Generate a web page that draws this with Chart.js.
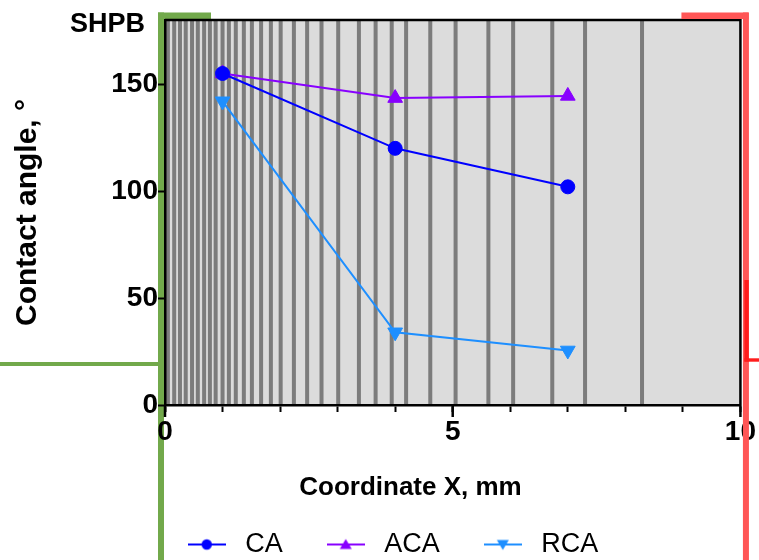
<!DOCTYPE html>
<html><head><meta charset="utf-8">
<script src="https://cdn.jsdelivr.net/npm/chart.js@4.4.0/dist/chart.umd.min.js"></script>
<style>html,body{margin:0;padding:0;background:#fff;}#wrap{width:759px;height:560px;}</style>
</head><body><div id="wrap"><canvas id="c" width="759" height="560"></canvas></div>
<script>
// ---- data ----
const xCoords = [1, 4, 7];
const caValues = [155, 120, 102];
const acaValues = [155, 143.5, 144.5];
const rcaValues = [142, 34, 25.5];
const seriesNames = ['CA', 'ACA', 'RCA'];
const xLabelValues = [0, 5, 10];
const yTickValues = [0, 50, 100, 150];
// background stripe positions (x, mm)
const stripePositions = [0.05, 0.16, 0.26, 0.36, 0.47, 0.57, 0.68, 0.78, 0.88, 1.00, 1.11, 1.23, 1.37, 1.51, 1.67, 1.84, 2.01, 2.24, 2.47, 2.72, 3.01, 3.37, 3.66, 3.94, 4.19, 4.61, 5.05, 5.62, 6.05, 6.73, 7.30, 8.29];

const FONT = '"Liberation Sans", Arial, Helvetica, sans-serif';
Chart.defaults.font.family = FONT;
Chart.defaults.color = '#000';

const colors = ['#0000ff', '#8800ff', '#1e8fff'];

function legendIcon(color, shape) {
  const c = document.createElement('canvas');
  c.width = 38; c.height = 14;
  const g = c.getContext('2d');
  g.strokeStyle = color; g.lineWidth = 2;
  g.beginPath(); g.moveTo(0, 7); g.lineTo(38, 7); g.stroke();
  g.fillStyle = color;
  g.beginPath();
  if (shape === 'circle') g.arc(19, 7, 5.2, 0, Math.PI * 2);
  else if (shape === 'up') { g.moveTo(19, 1.5); g.lineTo(25, 11.5); g.lineTo(13, 11.5); g.closePath(); }
  else { g.moveTo(19, 12.5); g.lineTo(25, 2.5); g.lineTo(13, 2.5); g.closePath(); }
  g.fill();
  return c;
}
const legendIcons = [legendIcon(colors[0], 'circle'), legendIcon(colors[1], 'up'), legendIcon(colors[2], 'down')];

function pts(vals) { return xCoords.map((x, i) => ({ x: x, y: vals[i] })); }

const decoPlugin = {
  id: 'deco',
  beforeDraw(chart) {
    const { ctx, chartArea: a, scales: { x } } = chart;
    ctx.save();
    // green frame lines
    ctx.fillStyle = '#72a94b';
    ctx.fillRect(a.left - 7, a.top - 7.5, 6, chart.height);
    ctx.fillRect(a.left - 7, a.top - 7.5, 53, 7);
    ctx.fillRect(0, a.top + 342, a.left - 4, 4);
    // plot background + stripes
    ctx.fillStyle = '#dcdcdc';
    ctx.fillRect(a.left, a.top, a.width, a.height);
    ctx.fillStyle = '#7c7c7c';
    stripePositions.forEach(v => {
      const px = x.getPixelForValue(v);
      ctx.fillRect(px - 2, a.top, 4, a.height);
    });
    ctx.restore();
  },
  afterDraw(chart) {
    const { ctx, chartArea: a, scales: { x } } = chart;
    ctx.save();
    // box top/right
    ctx.strokeStyle = '#000'; ctx.lineWidth = 2.5;
    ctx.beginPath();
    ctx.moveTo(a.left, a.top); ctx.lineTo(a.right, a.top); ctx.lineTo(a.right, a.bottom);
    ctx.stroke();
    // major x ticks
    ctx.lineWidth = 2.5;
    xLabelValues.forEach(v => {
      const px = x.getPixelForValue(v);
      ctx.beginPath(); ctx.moveTo(px, a.bottom); ctx.lineTo(px, a.bottom + 12); ctx.stroke();
    });
    // titles
    ctx.fillStyle = '#000';
    ctx.font = 'bold 26px ' + FONT;
    ctx.textAlign = 'center'; ctx.textBaseline = 'middle';
    ctx.fillText('Coordinate X, mm', a.left + 245.5, 488);
    ctx.font = 'bold 27px ' + FONT;
    ctx.textAlign = 'left'; ctx.textBaseline = 'alphabetic';
    ctx.fillText('SHPB', 70, 31.5);
    // red frame lines
    ctx.fillStyle = '#ff5656';
    ctx.fillRect(a.right - 59, a.top - 7.5, 67, 6.5);
    ctx.fillRect(a.right + 2.5, a.top - 7.5, 6, chart.height);
    ctx.fillStyle = '#ff1c1c';
    ctx.fillRect(a.right + 4, 280, 4.3, 81.5);
    ctx.fillRect(a.right + 4, 358.3, chart.width - a.right - 4, 3.4);
    ctx.restore();
  }
};

new Chart(document.getElementById('c'), {
  type: 'line',
  data: {
    datasets: [
      { label: seriesNames[0], data: pts(caValues), borderColor: colors[0], backgroundColor: colors[0], borderWidth: 2, pointStyle: 'circle', pointRadius: 7, pointBorderWidth: 1, tension: 0 },
      { label: seriesNames[1], data: pts(acaValues), borderColor: colors[1], backgroundColor: colors[1], borderWidth: 2, pointStyle: 'triangle', pointRadius: 8.5, pointBorderWidth: 1, tension: 0 },
      { label: seriesNames[2], data: pts(rcaValues), borderColor: colors[2], backgroundColor: colors[2], borderWidth: 2, pointStyle: 'triangle', pointRotation: 180, pointRadius: 8.5, pointBorderWidth: 1, tension: 0 }
    ]
  },
  options: {
    responsive: false,
    animation: false,
    layout: { padding: { left: 39, right: 18, top: 20, bottom: -8 } },
    scales: {
      x: {
        type: 'linear', min: 0, max: 10,
        ticks: { stepSize: 1, autoSkip: false, maxRotation: 0, padding: 3, font: { size: 28, weight: 'bold' },
          callback: v => xLabelValues.includes(v) ? String(v) : '' },
        grid: { drawOnChartArea: false, tickLength: 7, tickWidth: 2, tickColor: '#000' },
        border: { display: true, color: '#000', width: 2.5 },
        afterFit: s => { s.height = 88; }
      },
      y: {
        min: 0, max: 180,
        afterBuildTicks: s => { s.ticks = yTickValues.map(v => ({ value: v })); },
        ticks: { padding: 0, font: { size: 28, weight: 'bold' } },
        grid: { drawOnChartArea: false, tickLength: 7, tickWidth: 2, tickColor: '#000' },
        border: { display: true, color: '#000', width: 2.5 },
        title: { display: true, text: 'Contact angle, °', font: { size: 30, weight: 'bold' }, padding: { top: -29, bottom: 0 } },
        afterFit: s => { s.width = 126; }
      }
    },
    plugins: {
      tooltip: { enabled: false },
      legend: {
        position: 'bottom',
        labels: {
          usePointStyle: true, pointStyleWidth: 50, padding: 38, color: '#000',
          font: { size: 27 },
          generateLabels(chart) {
            const items = Chart.defaults.plugins.legend.labels.generateLabels(chart);
            items.forEach((it, i) => { it.pointStyle = legendIcons[i]; it.rotation = 0; });
            return items;
          }
        }
      }
    }
  },
  plugins: [decoPlugin]
});
</script></body></html>
